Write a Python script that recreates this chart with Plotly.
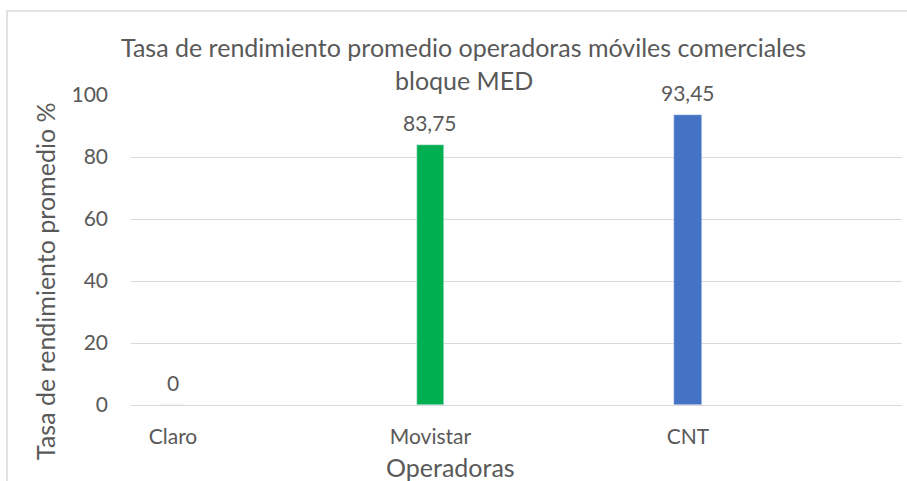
import plotly.graph_objects as go

categories = ["Claro", "Movistar", "CNT"]
values = [0, 83.75, 93.45]
bar_colors = ["#A5A5A5", "#00B050", "#4472C4"]
y_ticks = [0, 20, 40, 60, 80, 100]

title_line1 = "Tasa de rendimiento promedio operadoras móviles comerciales"
title_line2 = "bloque MED"
x_title = "Operadoras"
y_title = "Tasa de rendimiento promedio %"

FONT = "Lato"
GRAY = "#595959"
W, H = 907, 481
L, R, T, B = 131, 5, 95, 76
PW = W - L - R
PH = H - T - B


def px(x):
    return (x - L) / PW


def py(y):
    return (H - B - y) / PH


def fmt(v):
    if float(v).is_integer():
        return str(int(v))
    return f"{v:.2f}".replace(".", ",")


fig = go.Figure()
fig.add_trace(go.Bar(
    x=categories, y=values, marker_color=bar_colors, width=0.105,
    hoverinfo="x+y", showlegend=False,
))

annotations = []
for c, v in zip(categories, values):
    annotations.append(dict(x=c, y=v, xref="x", yref="y", text=fmt(v), showarrow=False,
                            yshift=23, font=dict(family=FONT, size=21, color=GRAY)))

annotations += [
    dict(x=px(463), y=py(47), xref="paper", yref="paper", text=title_line1, showarrow=False,
         font=dict(family=FONT, size=25, color=GRAY), xanchor="center", yanchor="middle"),
    dict(x=px(464), y=py(80), xref="paper", yref="paper", text=title_line2, showarrow=False,
         font=dict(family=FONT, size=25, color=GRAY), xanchor="center", yanchor="middle"),
    dict(x=px(450), y=py(467), xref="paper", yref="paper", text=x_title, showarrow=False,
         font=dict(family=FONT, size=25, color=GRAY), xanchor="center", yanchor="middle"),
    dict(x=px(45), y=py(281), xref="paper", yref="paper", text=y_title, showarrow=False,
         textangle=-90, font=dict(family=FONT, size=25, color=GRAY), xanchor="center", yanchor="middle"),
]

fig.update_layout(
    width=W, height=H,
    margin=dict(l=L, r=R, t=T, b=B),
    paper_bgcolor="white", plot_bgcolor="white",
    font=dict(family=FONT, size=21, color=GRAY),
    annotations=annotations,
    bargap=0,
    shapes=[dict(type="rect", xref="paper", yref="paper",
                 x0=px(7), x1=px(1200), y0=py(900), y1=py(11),
                 line=dict(color="#D9D9D9", width=1.5), layer="below")],
)
fig.update_xaxes(
    type="category", range=[-0.163, 2.831], showgrid=False, showline=False,
    zeroline=False, ticks="", tickfont=dict(family=FONT, size=21, color=GRAY),
    ticklabelstandoff=17, fixedrange=True,
)
fig.update_yaxes(
    range=[0, 100], tickvals=y_ticks, showgrid=True, gridcolor="#D9D9D9", gridwidth=1,
    zeroline=True, zerolinecolor="#D9D9D9", zerolinewidth=1, showline=False, ticks="",
    tickfont=dict(family=FONT, size=21, color=GRAY), ticklabelstandoff=22, fixedrange=True,
)

fig.write_html("out.html", config={"displayModeBar": False},
               post_script="document.body.style.margin='0';")
